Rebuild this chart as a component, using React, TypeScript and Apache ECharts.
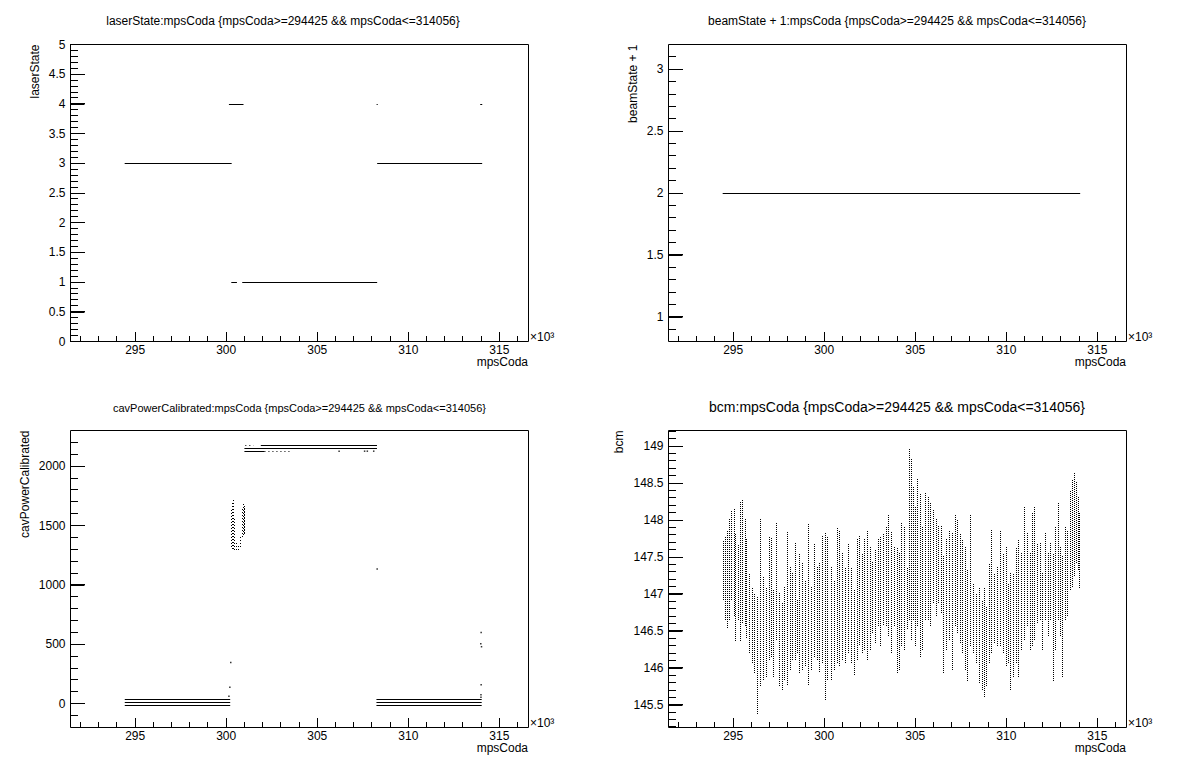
import React, { useEffect, useRef } from 'react';
import * as echarts from 'echarts';

const FONT = '"Liberation Sans", Arial, Helvetica, sans-serif';

// ---------- shared x axis (mpsCoda) ----------
const xMin = 291450;
const xMax = 316600;
const xMajorTicks = [295000, 300000, 305000, 310000, 315000];
const xMinorTicks = [292000, 293000, 294000, 296000, 297000, 298000, 299000, 301000, 302000, 303000, 304000,
  306000, 307000, 308000, 309000, 311000, 312000, 313000, 314000, 316000];
const xName = 'mpsCoda';

// ---------- panel texts ----------
const panelTitles = [
  'laserState:mpsCoda {mpsCoda>=294425 && mpsCoda<=314056}',
  'beamState + 1:mpsCoda {mpsCoda>=294425 && mpsCoda<=314056}',
  'cavPowerCalibrated:mpsCoda {mpsCoda>=294425 && mpsCoda<=314056}',
  'bcm:mpsCoda {mpsCoda>=294425 && mpsCoda<=314056}',
];
const yNames = ['laserState', 'beamState + 1', 'cavPowerCalibrated', 'bcm'];

// ---------- y axes ----------
const laserYRange = [0, 5];
const laserYMajor = [0, 0.5, 1, 1.5, 2, 2.5, 3, 3.5, 4, 4.5, 5];
const laserYMinorStep = 0.1;
const beamYRange = [0.8, 3.2];
const beamYMajor = [1, 1.5, 2, 2.5, 3];
const beamYMinorStep = 0.1;
const cavYRange = [-200, 2300];
const cavYMajor = [0, 500, 1000, 1500, 2000];
const cavYMinorStep = 100;
const bcmYRange = [145.193, 149.212];
const bcmYMajor = [145.5, 146, 146.5, 147, 147.5, 148, 148.5, 149];
const bcmYMinorStep = 0.1;

// ---------- data: laserState (segments: start, end, value) ----------
const laserSegStart = [294425, 300150, 300280, 300880, 308260, 308290, 313950];
const laserSegEnd = [300300, 300950, 300590, 308290, 308320, 314056, 314060];
const laserSegValue = [3, 4, 1, 1, 4, 3, 4];

// ---------- data: beamState + 1 ----------
const beamSegStart = [294425];
const beamSegEnd = [314056];
const beamSegValue = [2];

// ---------- data: cavPowerCalibrated ----------
const cavSolidStart = [294430, 294430, 294430, 301900, 301000, 301000, 308250, 308250, 308250];
const cavSolidEnd = [300220, 300220, 300220, 308280, 308280, 302100, 314030, 314030, 314030];
const cavSolidValue = [34, 12, -15, 2176, 2151, 2126, 34, 12, -15];
const cavDottedStart = [301050, 302100];
const cavDottedEnd = [301500, 303500];
const cavDottedValue = [2176, 2126];
const cavPointX = [306200, 307600, 307750, 308100, 300250, 300200, 300150, 308290, 314000, 313980, 314020, 314000, 313990, 313990];
const cavPointY = [2126, 2126, 2126, 2126, 348, 138, 62, 1135, 600, 505, 480, 160, 75, 55];
const cavColX = [300250, 300300, 300350, 300400, 300450, 300550, 300650, 300750, 300850, 300900, 300950, 301000];
const cavColLow = [1320, 1300, 1300, 1300, 1290, 1290, 1290, 1320, 1400, 1420, 1430, 1440];
const cavColHigh = [1640, 1690, 1730, 1660, 1560, 1360, 1340, 1400, 1650, 1680, 1680, 1650];

// ---------- data: bcm (per mpsCoda column: lowest and highest value) ----------
const bcmX = [294430, 294540, 294640, 294750, 294900, 295020, 295100, 295270, 295380, 295480,
  295630, 295730, 295860, 296010, 296150, 296320, 296490, 296640, 296780, 296950,
  297060, 297200, 297330, 297540, 297690, 297790, 297940, 298110, 298250, 298380,
  298530, 298630, 298800, 298950, 299090, 299260, 299430, 299580, 299720, 299890,
  300040, 300180, 300350, 300520, 300690, 300830, 300980, 301150, 301300, 301460,
  301610, 301780, 301930, 302050, 302200, 302350, 302510, 302620, 302770, 302930,
  303080, 303250, 303390, 303500, 303670, 303840, 303980, 304090, 304230, 304400,
  304550, 304670, 304760, 304880, 304990, 305090, 305240, 305390, 305560, 305680,
  305810, 305980, 306120, 306250, 306400, 306540, 306710, 306880, 307030, 307170,
  307280, 307450, 307590, 307720, 307860, 308030, 308180, 308330, 308490, 308640,
  308770, 308910, 309060, 309170, 309330, 309500, 309650, 309800, 309960, 310110,
  310220, 310380, 310530, 310660, 310800, 310970, 311120, 311290, 311430, 311540,
  311680, 311850, 311960, 312100, 312270, 312420, 312540, 312690, 312840, 312960,
  313070, 313220, 313360, 313490, 313590, 313700, 313800, 313910, 314000];
const bcmLow = [146.92, 146.65, 146.54, 146.65, 146.92, 146.70, 146.36, 146.65, 146.36, 146.61,
  146.56, 146.40, 146.20, 146.06, 145.93, 145.38, 145.75, 145.84, 145.88, 146.11,
  146.15, 145.88, 146.38, 145.75, 145.70, 145.84, 145.77, 145.97, 146.11, 146.11,
  146.20, 145.93, 145.97, 146.02, 145.77, 145.97, 146.15, 146.11, 145.95, 146.06,
  145.57, 145.84, 145.84, 145.97, 146.06, 146.02, 146.11, 146.06, 146.20, 146.06,
  145.91, 146.11, 146.31, 146.20, 146.24, 146.11, 146.24, 146.47, 146.34, 146.56,
  146.29, 146.58, 146.56, 146.43, 146.20, 146.56, 145.93, 145.97, 146.29, 146.24,
  146.52, 146.65, 146.38, 146.65, 146.29, 146.56, 146.15, 146.24, 146.65, 146.65,
  146.56, 146.88, 146.70, 146.88, 146.74, 145.93, 146.24, 146.38, 145.97, 146.56,
  146.47, 146.34, 146.20, 145.97, 145.82, 146.29, 146.20, 146.06, 145.79, 145.70,
  145.61, 145.75, 146.06, 146.20, 146.34, 146.29, 146.29, 146.20, 146.02, 146.06,
  145.70, 145.88, 146.06, 145.88, 146.24, 146.38, 146.56, 146.24, 146.29, 146.38,
  146.61, 146.65, 146.24, 146.65, 146.43, 146.65, 145.82, 146.24, 146.65, 146.43,
  145.88, 146.65, 146.70, 147.06, 147.10, 147.24, 147.42, 147.33, 147.08];
const bcmHigh = [147.71, 147.78, 147.87, 148.01, 148.12, 148.15, 147.83, 147.67, 148.25, 148.28,
  148.03, 147.74, 147.28, 147.10, 147.01, 146.97, 148.01, 147.24, 147.10, 147.78,
  147.76, 147.06, 147.96, 147.01, 146.88, 147.10, 147.85, 147.37, 147.28, 147.69,
  146.92, 147.55, 147.42, 147.19, 147.94, 147.10, 147.69, 147.37, 147.42, 147.80,
  147.83, 147.78, 147.37, 147.19, 147.89, 147.87, 147.55, 147.37, 147.69, 147.37,
  147.06, 147.74, 147.80, 147.55, 147.74, 147.87, 147.64, 147.44, 147.60, 147.76,
  147.78, 147.83, 147.92, 148.07, 147.85, 147.64, 147.64, 147.55, 147.96, 147.92,
  147.35, 148.98, 148.84, 148.46, 148.19, 148.57, 148.37, 147.92, 148.37, 148.32,
  148.23, 148.14, 148.01, 147.92, 147.92, 147.51, 147.74, 147.87, 147.83, 148.07,
  148.01, 147.83, 147.74, 147.64, 147.33, 148.07, 147.15, 147.01, 147.10, 146.92,
  147.10, 146.83, 147.42, 147.87, 147.28, 147.37, 147.87, 147.55, 147.64, 147.15,
  147.28, 147.28, 147.64, 147.74, 147.55, 148.19, 147.83, 147.55, 148.10, 148.19,
  147.69, 147.69, 147.28, 147.83, 147.55, 147.69, 147.55, 147.92, 148.23, 147.64,
  147.51, 147.92, 147.87, 148.41, 148.55, 148.64, 148.53, 148.32, 148.10];

// ---------- layout ----------
const PAD_DX = 598;
const PAD_DY = 386;
const FRAME = { left: 70.5, top: 44.5, width: 458, height: 297 };

function minorTicks(range: number[], step: number, majors: number[]) {
  const out: number[] = [];
  const first = Math.ceil(range[0] / step - 1e-9);
  const last = Math.floor(range[1] / step + 1e-9);
  for (let k = first; k <= last; k++) {
    const v = Math.round(k * step * 1e6) / 1e6;
    if (v <= range[0] + 1e-9 || v >= range[1] - 1e-9) continue;
    if (majors.some((m) => Math.abs(m - v) < 1e-6)) continue;
    out.push(v);
  }
  return out;
}

function segLines(start: number[], end: number[], val: number[]) {
  return start.map((s, i) => ({ coords: [[s, val[i]], [end[i], val[i]]] }));
}

function columnRender(dash: number[]) {
  return (params: any, api: any) => {
    const x = api.value(0);
    const a = api.coord([x, api.value(1)]);
    const b = api.coord([x, api.value(2)]);
    const px = Math.round(a[0]) + 0.5;
    return {
      type: 'line',
      shape: { x1: px, y1: Math.round(a[1]), x2: px, y2: Math.round(b[1]) },
      style: { stroke: '#000', lineWidth: 1, lineDash: dash },
    };
  };
}

export default function App() {
  const ref = useRef<HTMLDivElement>(null);

  useEffect(() => {
    if (!ref.current) return;
    const chart = echarts.init(ref.current, undefined, { renderer: 'svg' });

    const panels = [
      { range: laserYRange, major: laserYMajor, minorStep: laserYMinorStep, dx: 0, dy: 0, yNameX: 35.4, titleX: 283, titleY: 21.3, titleSize: 12 },
      { range: beamYRange, major: beamYMajor, minorStep: beamYMinorStep, dx: PAD_DX, dy: 0, yNameX: 35.2, titleX: 299, titleY: 21.3, titleSize: 12 },
      { range: cavYRange, major: cavYMajor, minorStep: cavYMinorStep, dx: 0, dy: PAD_DY, yNameX: 25.2, titleX: 299.5, titleY: 21.5, titleSize: 11 },
      { range: bcmYRange, major: bcmYMajor, minorStep: bcmYMinorStep, dx: PAD_DX, dy: PAD_DY, yNameX: 21, titleX: 299, titleY: 20.8, titleSize: 14 },
    ];

    const grids: any[] = [];
    const xAxes: any[] = [];
    const yAxes: any[] = [];
    const gfx: any[] = [];
    const series: any[] = [];
    const lineStyle = { color: '#000', width: 1, opacity: 1 };

    panels.forEach((p, g) => {
      const left = FRAME.left + p.dx;
      const top = FRAME.top + p.dy;
      const right = left + FRAME.width;
      const bottom = top + FRAME.height;
      grids.push({ left, top, width: FRAME.width, height: FRAME.height, show: false, containLabel: false });
      xAxes.push({
        type: 'value', gridIndex: g, position: 'bottom', min: xMin, max: xMax,
        axisLine: { show: false, onZero: false }, splitLine: { show: false },
        axisTick: { show: true, inside: true, length: 9, customValues: xMajorTicks, lineStyle: { color: '#000', width: 1 } },
        axisLabel: {
          show: true, customValues: xMajorTicks, margin: 3, color: '#000', fontSize: 12, fontFamily: FONT, lineHeight: 10,
          formatter: (v: number) => String(Math.round(v / 1000)),
        },
      });
      yAxes.push({
        type: 'value', gridIndex: g, position: 'left', min: p.range[0], max: p.range[1],
        axisLine: { show: false, onZero: false }, splitLine: { show: false },
        axisTick: { show: true, inside: true, length: 14, customValues: p.major, lineStyle: { color: '#000', width: 1 } },
        axisLabel: {
          show: true, customValues: p.major, margin: 5, color: '#000', fontSize: 12, fontFamily: FONT, lineHeight: 10,
          formatter: (v: number) => String(v),
        },
      });

      // frame
      gfx.push({
        type: 'rect', silent: true, z: 50,
        shape: { x: left, y: top, width: FRAME.width, height: FRAME.height },
        style: { fill: 'none', stroke: '#000', lineWidth: 1 },
      });
      // inward ticks as 1-px filled bars on the same linear axis mapping
      const xCol = (v: number) => Math.floor(left + ((v - xMin) / (xMax - xMin)) * FRAME.width);
      const yRow = (v: number) => Math.floor(bottom - ((v - p.range[0]) / (p.range[1] - p.range[0])) * FRAME.height);
      const bar = (x: number, y: number, w: number, h: number) => gfx.push({
        type: 'rect', silent: true, z: 60,
        shape: { x, y, width: w, height: h },
        style: { fill: '#000', stroke: 'none' },
      });
      const baseRow = Math.floor(bottom);
      const baseCol = Math.floor(left);
      xMajorTicks.forEach((v) => bar(xCol(v), baseRow - 9, 1, 10));
      xMinorTicks.forEach((v) => bar(xCol(v), baseRow - 5, 1, 6));
      p.major.forEach((v) => bar(baseCol, yRow(v), 15, 1));
      minorTicks(p.range, p.minorStep, p.major).forEach((v) => bar(baseCol, yRow(v), 8, 1));

      gfx.push({
        type: 'text', x: p.titleX + p.dx, y: p.titleY + p.dy, silent: true,
        style: {
          text: panelTitles[g], fill: '#000', font: `${p.titleSize}px ${FONT}`,
          textAlign: 'center', textVerticalAlign: 'middle', align: 'center', verticalAlign: 'middle',
        },
      });
      gfx.push({
        type: 'text', x: p.yNameX + p.dx, y: top, rotation: Math.PI / 2, silent: true,
        style: {
          text: yNames[g], fill: '#000', font: `12px ${FONT}`,
          textAlign: 'right', textVerticalAlign: 'middle', align: 'right', verticalAlign: 'middle',
        },
      });
      gfx.push({
        type: 'text', x: right - 0.5, y: 361.5 + p.dy, silent: true,
        style: {
          text: xName, fill: '#000', font: `12px ${FONT}`, lineHeight: 10,
          textAlign: 'right', textVerticalAlign: 'middle', align: 'right', verticalAlign: 'middle',
        },
      });
      gfx.push({
        type: 'text', x: right + 1.5, y: 337.3 + p.dy, silent: true,
        style: {
          text: '×10³', fill: '#000', font: `12px ${FONT}`, lineHeight: 10,
          textAlign: 'left', textVerticalAlign: 'middle', align: 'left', verticalAlign: 'middle',
        },
      });
    });

    series.push(
      {
        type: 'lines', coordinateSystem: 'cartesian2d', xAxisIndex: 0, yAxisIndex: 0, silent: true,
        data: segLines(laserSegStart, laserSegEnd, laserSegValue), lineStyle,
      },
      {
        type: 'lines', coordinateSystem: 'cartesian2d', xAxisIndex: 1, yAxisIndex: 1, silent: true,
        data: segLines(beamSegStart, beamSegEnd, beamSegValue), lineStyle,
      },
      {
        type: 'lines', coordinateSystem: 'cartesian2d', xAxisIndex: 2, yAxisIndex: 2, silent: true,
        data: segLines(cavSolidStart, cavSolidEnd, cavSolidValue), lineStyle,
      },
      {
        type: 'lines', coordinateSystem: 'cartesian2d', xAxisIndex: 2, yAxisIndex: 2, silent: true,
        data: segLines(cavDottedStart, cavDottedEnd, cavDottedValue),
        lineStyle: { ...lineStyle, type: [1, 3] },
      },
      {
        type: 'scatter', xAxisIndex: 2, yAxisIndex: 2, silent: true,
        data: cavPointX.map((x, i) => [x, cavPointY[i]]),
        symbol: 'rect', symbolSize: 1.5, itemStyle: { color: '#000' },
      },
      {
        type: 'custom', xAxisIndex: 2, yAxisIndex: 2, silent: true,
        data: cavColX.map((x, i) => [x, cavColLow[i], cavColHigh[i]]),
        encode: { x: 0, y: [1, 2] },
        renderItem: columnRender([1, 2]),
      },
      {
        type: 'custom', xAxisIndex: 3, yAxisIndex: 3, silent: true,
        data: bcmX.map((x, i) => [x, bcmLow[i], bcmHigh[i]]),
        encode: { x: 0, y: [1, 2] },
        renderItem: columnRender([1, 1]),
      },
    );

    chart.setOption({
      animation: false,
      backgroundColor: '#fff',
      grid: grids,
      xAxis: xAxes,
      yAxis: yAxes,
      graphic: { elements: gfx },
      series,
    });

    return () => chart.dispose();
  }, []);

  return (
    <div
      ref={ref}
      style={{ position: 'absolute', left: 0, top: 0, width: 1196, height: 772, background: '#fff' }}
    />
  );
}
